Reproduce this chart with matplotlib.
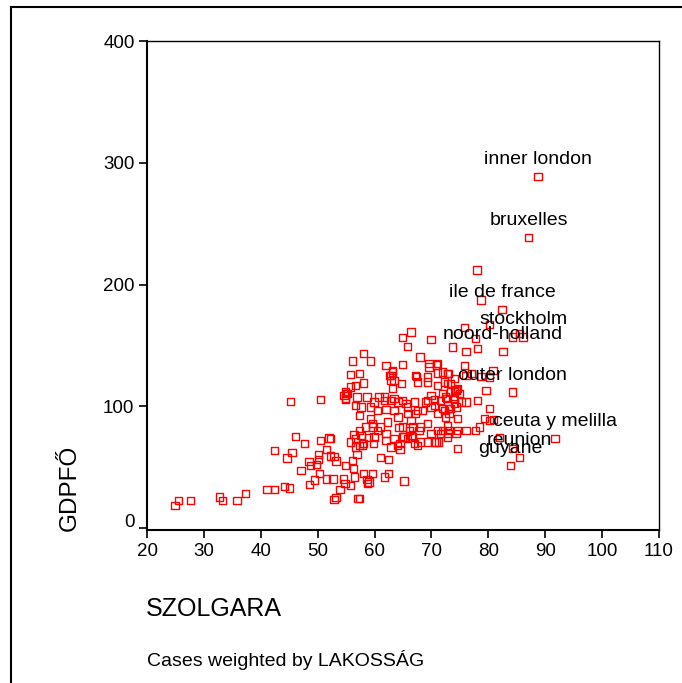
import matplotlib
matplotlib.use("Agg")
import matplotlib.pyplot as plt
from matplotlib.lines import Line2D
from matplotlib.transforms import ScaledTranslation

plt.rcParams['font.family'] = ['Liberation Sans', 'DejaVu Sans']

# SZOLGARA (x) and GDPFŐ (y)
szolgara = [
    24.9, 25.5, 27.7, 32.7, 33.3, 35.8, 37.3, 41.1, 42.4, 44.2, 45.0,
    42.4, 44.6, 45.5, 46.1, 47.7, 47.1, 45.2, 50.5,
    48.5, 48.7, 49.8, 50.1, 50.1, 50.5, 52.0, 51.5, 52.3, 52.9, 53.2,
    50.3, 49.4, 48.6, 51.6, 52.7, 54.5, 53.9, 54.8, 52.9, 53.2,
    54.9, 56.1, 56.9, 52.3, 56.3, 56.5, 55.8, 58.1, 59.6, 58.7, 58.8, 59.0,
    57.1, 57.4, 61.1, 62.5, 61.7, 62.4, 65.2,
    56.4, 56.7, 58.9, 59.8, 57.9, 57.3,
    62.0, 62.9, 64.5, 64.5, 65.8, 66.7, 67.6, 69.3, 70.5, 71.2, 72.8, 74.6,
    54.9, 55.1,
    66.4, 64.9, 65.8, 69.9,
    58.1, 56.1, 59.3, 64.9, 68.0, 69.6, 70.9,
    62.0, 63.2, 62.6, 55.8, 57.3, 58.1, 62.9, 63.2, 64.7,
    67.4, 69.3, 71.1, 72.8, 74.3,
    55.8, 55.2, 54.9, 56.9, 58.7, 59.9, 60.8, 61.7, 63.4, 65.5, 67.0, 69.0, 70.5,
    56.7, 57.6, 59.3, 60.5, 62.0, 63.4, 65.8, 67.6, 69.9, 72.3, 74.0,
    57.3, 59.3, 59.6, 60.5, 62.3, 64.3, 65.2, 66.7, 67.8, 69.3, 71.1, 72.8, 74.6,
    54.6, 59.6, 58.4, 61.1, 59.9, 58.1, 56.7, 55.8, 57.6, 57.3,
    61.7, 62.9, 64.1, 64.9, 65.8, 64.1, 64.9, 66.4, 67.2, 68.4, 69.3, 69.9,
    70.5, 71.1, 72.5, 73.1, 74.3, 74.0, 74.6, 73.4, 72.5, 71.6,
    62.0, 63.4, 64.9, 66.4, 67.0, 68.1, 69.9, 70.8, 71.6, 73.1, 64.0, 66.1, 68.1,
    63.2, 62.9, 63.4, 69.6, 71.1, 72.8, 74.0, 67.2, 67.6, 69.3, 71.1, 72.3,
    75.8, 76.1, 56.7, 54.9,
    85.5, 84.3, 86.1, 73.7, 76.1, 78.1, 82.6, 77.8,
    80.8, 72.0, 72.9, 77.0, 78.7, 80.2,
    84.3, 79.6, 78.1, 80.2,
    73.4, 74.3, 74.9, 74.0, 72.6, 72.0, 75.2, 76.1,
    79.3, 78.5, 77.8, 76.1, 74.3, 72.9, 72.0, 74.6, 73.1, 72.0, 73.4, 80.2, 80.9,
    84.3, 85.5, 83.9, 91.7, 82.0,
    88.7, 87.1, 78.0, 78.7, 82.4, 80.2, 75.8,
]
gdpfo = [
    18.4, 22.8, 22.8, 25.5, 22.8, 22.8, 28.5, 31.6, 31.6, 34.3, 32.9,
    63.6, 57.6, 62.3, 75.4, 69.4, 47.5, 104.0, 105.6,
    54.9, 51.6, 52.1, 60.6, 56.3, 72.1, 74.0, 64.7, 59.2, 59.0, 55.1,
    45.0, 39.5, 35.8, 40.3, 40.3, 40.3, 31.6, 36.5, 23.8, 25.3,
    51.6, 55.7, 60.6, 73.5, 48.8, 42.0, 35.2, 44.7, 44.7, 39.8, 36.5, 37.8,
    24.2, 24.2, 57.9, 56.3, 42.0, 44.7, 38.7,
    77.0, 73.5, 74.3, 69.4, 68.0, 68.0,
    72.1, 66.6, 69.4, 64.5, 73.5, 74.8, 68.0, 70.7, 70.7, 70.7, 74.8, 65.3,
    106.4, 110.5,
    161.2, 156.6, 149.4, 154.9,
    143.4, 137.3, 137.3, 134.6, 140.6, 135.2, 134.0,
    133.8, 128.3, 125.6, 126.4, 127.0, 119.2, 121.4, 114.6, 118.8,
    124.8, 124.2, 127.5, 118.8, 113.8,
    116.0, 110.5, 105.6, 107.7, 107.7, 103.6, 107.7, 105.0, 106.4, 102.3, 103.6, 103.6, 105.6,
    100.9, 99.5, 99.5, 96.8, 97.3, 96.8, 94.1, 96.8, 99.0, 96.8, 102.3,
    92.7, 90.0, 83.1, 80.3, 87.1, 82.4, 74.8, 83.1, 80.3, 85.9, 80.3, 84.4, 80.3,
    109.0, 85.9, 83.1, 83.1, 74.8, 69.4, 66.6, 70.7, 76.2, 80.3,
    107.7, 105.0, 103.6, 105.0, 99.5, 91.3, 83.1, 88.6, 94.1, 96.8, 105.0, 109.1,
    100.9, 94.1, 91.3, 98.2, 99.5, 111.8, 114.6, 111.8, 107.7, 105.0,
    77.6, 73.5, 74.8, 76.2, 69.4, 70.7, 77.6, 70.7, 77.6, 80.3, 68.0, 80.3, 83.1,
    129.7, 125.6, 121.4, 132.3, 135.2, 127.0, 122.8, 125.6, 120.1, 120.1, 117.4, 120.1,
    133.8, 125.6, 117.4, 111.8,
    159.9, 157.1, 157.1, 148.8, 145.3, 147.5, 145.3, 155.8,
    129.7, 128.3, 127.0, 127.0, 124.8, 124.2,
    111.8, 113.2, 105.0, 98.2,
    118.8, 113.2, 110.5, 106.4, 106.4, 110.5, 103.6, 103.6,
    90.0, 83.1, 80.3, 80.3, 77.6, 77.6, 80.3, 90.0, 94.1, 98.2, 98.2, 88.6, 89.1,
    65.3, 57.9, 51.6, 73.5, 74.3,
    289.0, 238.5, 212.0, 187.3, 179.8, 167.3, 164.8,
]

region_names = ["inner london", "bruxelles", "ile de france", "stockholm",
                "noord-holland", "outer london", "ceuta y melilla", "reunion", "guyane"]
region_x = [88.7, 87.1, 82.4, 86.1, 82.6, 84.3, 91.7, 85.5, 83.9]
region_y = [289.0, 238.5, 179.8, 157.1, 145.3, 111.8, 73.5, 57.9, 51.6]

fig = plt.figure(figsize=(6.82, 6.83), dpi=100)
ax = fig.add_axes([147 / 682, 1 - 530 / 683, 512 / 682, 489 / 683])

ax.scatter(szolgara, gdpfo, marker='s', s=28, facecolors='none',
           edgecolors='red', linewidths=1.0, zorder=3)

for name, x, y in zip(region_names, region_x, region_y):
    ax.annotate(name, (x, y), xytext=(0, 9), textcoords='offset points',
                ha='center', va='baseline', fontsize=14, color='black', zorder=4)

ax.set_xlim(20, 110)
ax.set_ylim(-1.5, 400)
ax.set_xticks(range(20, 111, 10))
ax.set_yticks([0, 100, 200, 300, 400])
ax.tick_params(direction='out', length=6, width=1.2, labelsize=13.5, pad=3)
for side in ['left', 'bottom']:
    ax.spines[side].set_linewidth(1.5)
for side in ['top', 'right']:
    ax.spines[side].set_linewidth(1.0)

# the "0" label sits a little above its tick in the original
zero_lbl = ax.get_yticklabels()[0]
zero_lbl.set_transform(zero_lbl.get_transform() + ScaledTranslation(0, 8 / 100, fig.dpi_scale_trans))

fig.text(70 / 682, 1 - 531 / 683, "GDPFŐ", rotation=90, ha='center', va='bottom', fontsize=17.5)
fig.text(146 / 682, 1 - 609 / 683, "SZOLGARA", ha='left', va='center', fontsize=18)
fig.text(147 / 682, 1 - 660 / 683, "Cases weighted by LAKOSSÁG", ha='left', va='center', fontsize=14)

# partial frame around the chart
fig.add_artist(Line2D([11 / 682, 11 / 682], [0, 1 - 6.5 / 683], color='black', lw=1.5))
fig.add_artist(Line2D([11 / 682, 1], [1 - 6.5 / 683, 1 - 6.5 / 683], color='black', lw=1.5))

fig.savefig("out.png", dpi=100)
